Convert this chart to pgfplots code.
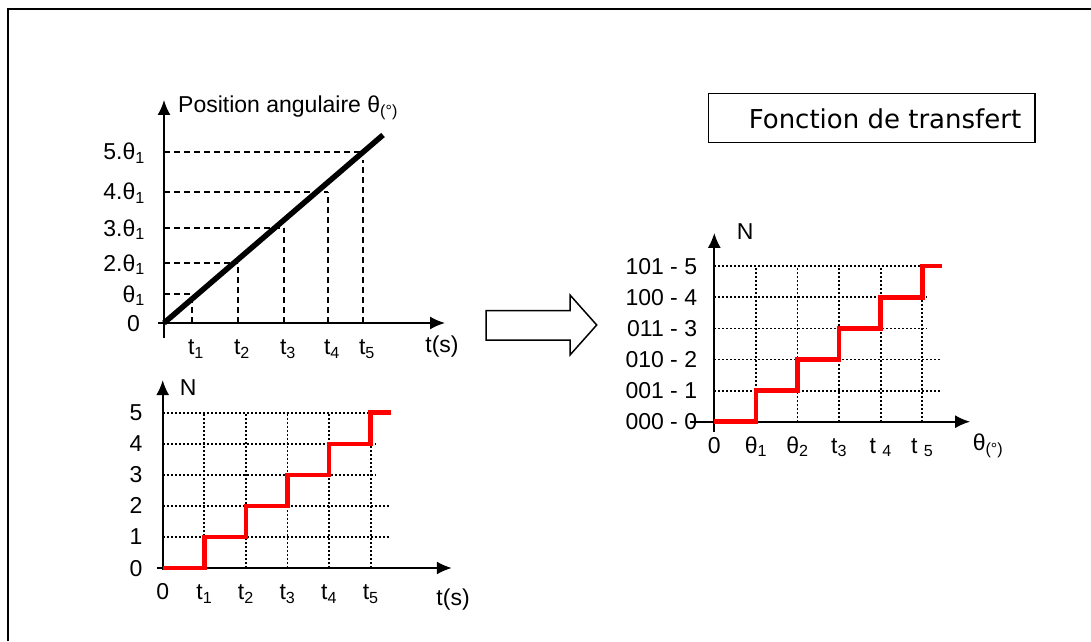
\documentclass[border=0pt]{standalone}
\usepackage{fontspec}
\setmainfont{Liberation Sans}
\newfontfamily\boxfont{DejaVu Sans}
\usepackage{pgfplots}
\pgfplotsset{compat=1.18}
\usetikzlibrary{arrows.meta}

\newcommand{\sub}[1]{\textsubscript{#1}}
\newcommand{\lbl}{\fontsize{23}{27}\selectfont}

\pgfplotsset{
  schema/.style={
    axis lines=middle,
    axis line style={line width=1.8pt, -{Latex[length=15pt,width=13pt]}},
    major tick length=0pt,
    tick style={draw=none},
    hide obscured x ticks=false,
    hide obscured y ticks=false,
    anchor=origin,
    clip=false,
    ticklabel style={font=\lbl, inner sep=0pt},
    xticklabel style={anchor=base, yshift=-31.5pt},
    yticklabel style={anchor=base east, yshift=-8pt},
  },
  staircase/.style={red, line width=4.5pt, const plot},
  gridline/.style={black, line width=1.8pt, dash pattern=on 1.8pt off 2.2pt},
  guide/.style={black, line width=1.4pt, dash pattern=on 6pt off 4pt},
}

\begin{document}
\begin{tikzpicture}[font=\lbl]
\path[use as bounding box] (0,0) rectangle (1091pt,641pt);
% page frame (top and left edges)
\draw[line width=2pt] (8pt,0pt) -- (8pt,632pt) -- (1091pt,632pt);

% ---------- angular position versus time ----------
\begin{axis}[schema, at={(164pt,318pt)}, x=1pt, y=1pt,
  xmin=-6, xmax=281, ymin=-15, ymax=223,
  xtick={28,74,120,164,199},
  xticklabels={t\sub{1},t\sub{2},t\sub{3},t\sub{4},t\sub{5}},
  xticklabel style={xshift=4pt},
  ytick={0,29,60,95,131,171},
  yticklabels={0\kern5pt,θ\sub{1},2.θ\sub{1},3.θ\sub{1},4.θ\sub{1},5.θ\sub{1}},
  yticklabel style={xshift=-19pt},
]
  \addplot[guide] coordinates {(0,29) (28,29)};
  \addplot[guide] coordinates {(0,60) (74,60)};
  \addplot[guide] coordinates {(0,95) (120,95)};
  \addplot[guide] coordinates {(0,131) (164,131)};
  \addplot[guide] coordinates {(0,171) (199,171)};
  \addplot[guide] coordinates {(28,0) (28,29)};
  \addplot[guide] coordinates {(74,0) (74,60)};
  \addplot[guide] coordinates {(120,0) (120,95)};
  \addplot[guide] coordinates {(164,0) (164,131)};
  \addplot[guide] coordinates {(199,0) (199,163)};
  \addplot[black, line width=5.5pt] coordinates {(0,0) (219,188)};
  \node[anchor=west, inner sep=0pt] at (axis cs:14,215) {Position angulaire θ\sub{(°)}};
  \node[inner sep=0pt] at (axis cs:278,-24) {t(s)};
\end{axis}

% ---------- counter value versus time ----------
\begin{axis}[schema, at={(162.7pt,73pt)}, x=41.6pt, y=31.06pt,
  xmin=-0.14, xmax=6.95, ymin=-0.05, ymax=6.05,
  xtick={0,1,2,3,4,5},
  xticklabels={0,t\sub{1},t\sub{2},t\sub{3},t\sub{4},t\sub{5}},
  ytick={0,1,2,3,4,5},
  yticklabels={0,1,2,3,4,5},
  yticklabel style={xshift=-20pt},
]
  \addplot[gridline] coordinates {(0,1) (5.48,1)};
  \addplot[gridline] coordinates {(0,2) (5.48,2)};
  \addplot[gridline] coordinates {(0,3) (5.1,3)};
  \addplot[gridline] coordinates {(0,4) (5.1,4)};
  \addplot[gridline] coordinates {(0,5) (5,5)};
  \addplot[gridline] coordinates {(1,0) (1,5)};
  \addplot[gridline] coordinates {(2,0) (2,5)};
  \addplot[gridline] coordinates {(3,0) (3,5)};
  \addplot[gridline] coordinates {(4,0) (4,5)};
  \addplot[gridline] coordinates {(5,0) (5,5)};
  \addplot[staircase] coordinates {(0,0) (1,1) (2,2) (3,3) (4,4) (5,5) (5.48,5)};
  \node[inner sep=0pt] at (axis cs:0.61,5.8) {N};
  \node[inner sep=0pt] at (axis cs:6.98,-1.03) {t(s)};
\end{axis}

% ---------- transfer function: code versus angle ----------
\begin{axis}[schema, at={(714.3pt,219.3pt)}, x=41.6pt, y=31.1pt,
  xmin=-0.58, xmax=6.15, ymin=-0.32, ymax=6.07,
  xtick={0,1,2,3,4,5},
  xticklabels={0,θ\sub{1},θ\sub{2},t\sub{3},t \sub{4},t \sub{5}},
  ytick={0,1,2,3,4,5},
  yticklabels={000 - 0,001 - 1,010 - 2,011 - 3,100 - 4,101 - 5},
  yticklabel style={xshift=-17pt},
]
  \addplot[gridline] coordinates {(0,1) (5.47,1)};
  \addplot[gridline] coordinates {(0,2) (5.47,2)};
  \addplot[gridline] coordinates {(0,3) (5.1,3)};
  \addplot[gridline] coordinates {(0,4) (5.1,4)};
  \addplot[gridline] coordinates {(0,5) (5,5)};
  \addplot[gridline] coordinates {(1,0) (1,5)};
  \addplot[gridline] coordinates {(2,0) (2,5)};
  \addplot[gridline] coordinates {(3,0) (3,5)};
  \addplot[gridline] coordinates {(4,0) (4,5)};
  \addplot[gridline] coordinates {(5,0) (5,5)};
  \addplot[staircase] coordinates {(0,0) (1,1) (2,2) (3,3) (4,4) (5,5) (5.47,5)};
  \node[inner sep=0pt] at (axis cs:0.74,6.1) {N};
  \node[inner sep=0pt] at (axis cs:6.58,-0.78) {θ\sub{(°)}};
\end{axis}

% hollow arrow between the diagrams
\draw[line width=1.5pt, line join=miter]
  (486pt,330.3pt) -- (570pt,330.3pt) -- (570pt,346pt) -- (596.7pt,316pt)
  -- (570pt,286pt) -- (570pt,301pt) -- (486pt,301pt) -- cycle;

% title box
\draw[line width=1.3pt] (708.3pt,547.7pt) rectangle (1035pt,498.3pt);
\node[font=\boxfont\fontsize{26}{30}\selectfont, inner sep=0pt] at (885pt,522pt) {Fonction de transfert};
\end{tikzpicture}
\end{document}
